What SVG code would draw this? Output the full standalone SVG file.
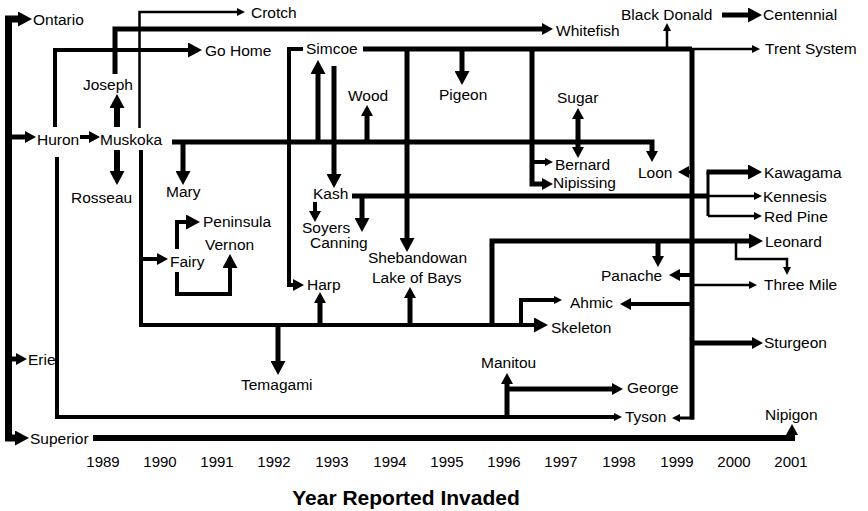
<svg xmlns="http://www.w3.org/2000/svg" width="868" height="511" viewBox="0 0 868 511">
<style>
text{font-family:"Liberation Sans",Arial,sans-serif;font-size:15.5px;fill:#000}
.yr{font-size:15px;text-anchor:middle}
.title{font-size:21px;font-weight:bold;text-anchor:middle}
path{fill:none;stroke:#000;stroke-linejoin:miter}
.t2{stroke-width:2.5}.t3{stroke-width:3}.t4{stroke-width:4}.t5{stroke-width:5}.t6{stroke-width:6}.t7{stroke-width:7}
.big{marker-end:url(#big)}.med{marker-end:url(#med)}.sm{marker-end:url(#sm)}
</style>
<defs>
<marker id="big" markerUnits="userSpaceOnUse" markerWidth="14" markerHeight="15" refX="1" refY="7.5" orient="auto"><path d="M0,0 L14,7.5 L0,15 z" style="fill:#000;stroke:none"/></marker>
<marker id="med" markerUnits="userSpaceOnUse" markerWidth="11" markerHeight="12" refX="1" refY="6" orient="auto"><path d="M0,0 L11,6 L0,12 z" style="fill:#000;stroke:none"/></marker>
<marker id="sm" markerUnits="userSpaceOnUse" markerWidth="8" markerHeight="8" refX="1" refY="4" orient="auto"><path d="M0,0 L8,4 L0,8 z" style="fill:#000;stroke:none"/></marker>
</defs>
<rect width="868" height="511" fill="#fff"/>
<g id="connectors">
<path class="t7 big" d="M8.5,438 V19 H19"/>
<path class="t7 big" d="M8.5,430 V438 H16"/>
<path class="t5 med" d="M8.5,137 H26"/>
<path class="t5 med" d="M8.5,359 H17"/>
<path class="t4 med" d="M80,137 H90"/>
<path class="t6 big" d="M117,127 V107"/>
<path class="t6 big" d="M117,150 V172"/>
<path class="t5 med" d="M115,74 V29 H543"/>
<path class="t2 sm" d="M139.5,128 V12 H238"/>
<path class="t4 big" d="M141,150 V325 H535"/>
<path class="t4 med" d="M141,259 H158"/>
<path class="t4 big" d="M177,249 V222 H187"/>
<path class="t4 big" d="M177,272 V294 H230 V267"/>
<path class="t4 big" d="M55,127 V50 H189"/>
<path class="t4 sm" d="M57,157 V417 H615"/>
<path class="t5 med" d="M172,142 H652 V152"/>
<path class="t5 big" d="M183,142 V172"/>
<path class="t5 big" d="M318,142 V73"/>
<path class="t5 med" d="M367,142 V115"/>
<path class="t5 med" d="M578,142 V118"/>
<path class="t5 med" d="M578,142 V148"/>
<path class="t4 med" d="M303,49 H289 V285 H294"/>
<path class="t5" d="M363,49 H692"/>
<path class="t2 sm" d="M692,49 H753"/>
<path class="t2 sm" d="M667,49 V30"/>
<path class="t5 big" d="M722,15 H749"/>
<path class="t5 big" d="M334,66 V175"/>
<path class="t5 big" d="M407,49 V239"/>
<path class="t5 big" d="M462,49 V72"/>
<path class="t5 med" d="M532,49 V184 H543"/>
<path class="t4 sm" d="M532,162 H546"/>
<path class="t5" d="M692,49 V419.5"/>
<path class="t3 sm" d="M694,418 H679"/>
<path class="t4 med" d="M692,172 H688"/>
<path class="t4 med" d="M692,275 H679"/>
<path class="t2 sm" d="M692,285 H750"/>
<path class="t4 med" d="M692,304 H630"/>
<path class="t5 med" d="M692,343 H753"/>
<path class="t5" d="M352,196 H708"/>
<path class="t2 sm" d="M708,196 H755"/>
<path class="t3" d="M708,216 V172"/>
<path class="t5 big" d="M706.5,172 H749"/>
<path class="t2 sm" d="M708,216 H755"/>
<path class="t5 big" d="M362,196 V219"/>
<path class="t4 med" d="M315,202 V212"/>
<path class="t5 big" d="M492,325 V241 H750"/>
<path class="t5 med" d="M658,241 V257"/>
<path class="t2 sm" d="M736,241 V259 H787 V268"/>
<path class="t4 sm" d="M521,325 V300 H555"/>
<path class="t5 med" d="M320,325 V302"/>
<path class="t5 med" d="M410,325 V297"/>
<path class="t5 big" d="M278,325 V362"/>
<path class="t5 med" d="M507,417 V383"/>
<path class="t5 med" d="M507,389 H613"/>
<path class="t6 med" d="M93,438 H792 V434"/>
</g>
<g id="Ontario"><text x="33" y="25">Ontario</text></g>
<g id="Huron"><text x="37" y="145">Huron</text></g>
<g id="Muskoka"><text x="100" y="145">Muskoka</text></g>
<g id="Joseph"><text x="83" y="90">Joseph</text></g>
<g id="Rosseau"><text x="71" y="203">Rosseau</text></g>
<g id="Erie"><text x="28" y="365">Erie</text></g>
<g id="Superior"><text x="30" y="444">Superior</text></g>
<g id="Crotch"><text x="251" y="18">Crotch</text></g>
<g id="GoHome"><text x="205" y="56">Go Home</text></g>
<g id="Whitefish"><text x="556" y="36">Whitefish</text></g>
<g id="Simcoe"><text x="306" y="54">Simcoe</text></g>
<g id="Wood"><text x="348" y="101">Wood</text></g>
<g id="Pigeon"><text x="439" y="100">Pigeon</text></g>
<g id="Sugar"><text x="557" y="103">Sugar</text></g>
<g id="BlackDonald"><text x="621" y="20">Black Donald</text></g>
<g id="Centennial"><text x="763" y="20">Centennial</text></g>
<g id="TrentSystem"><text x="765" y="54">Trent System</text></g>
<g id="Mary"><text x="166" y="197">Mary</text></g>
<g id="Kash"><text x="313" y="199">Kash</text></g>
<g id="Bernard"><text x="555" y="170">Bernard</text></g>
<g id="Nipissing"><text x="553" y="188">Nipissing</text></g>
<g id="Loon"><text x="638" y="178">Loon</text></g>
<g id="Kawagama"><text x="764" y="178">Kawagama</text></g>
<g id="Kennesis"><text x="763" y="202">Kennesis</text></g>
<g id="RedPine"><text x="764" y="222">Red Pine</text></g>
<g id="Leonard"><text x="765" y="247">Leonard</text></g>
<g id="Panache"><text x="601" y="281">Panache</text></g>
<g id="ThreeMile"><text x="764" y="290">Three Mile</text></g>
<g id="Ahmic"><text x="570" y="308">Ahmic</text></g>
<g id="Skeleton"><text x="551" y="333">Skeleton</text></g>
<g id="Sturgeon"><text x="764" y="348">Sturgeon</text></g>
<g id="Peninsula"><text x="203" y="227">Peninsula</text></g>
<g id="Vernon"><text x="205" y="250">Vernon</text></g>
<g id="Fairy"><text x="170" y="267">Fairy</text></g>
<g id="Soyers"><text x="302" y="233">Soyers</text></g>
<g id="Canning"><text x="310" y="248">Canning</text></g>
<g id="Shebandowan"><text x="368" y="263">Shebandowan</text></g>
<g id="LakeOfBays"><text x="372" y="283">Lake of Bays</text></g>
<g id="Harp"><text x="307" y="290">Harp</text></g>
<g id="Temagami"><text x="241" y="390">Temagami</text></g>
<g id="Manitou"><text x="481" y="368">Manitou</text></g>
<g id="George"><text x="627" y="393">George</text></g>
<g id="Tyson"><text x="625" y="422">Tyson</text></g>
<g id="Nipigon"><text x="765" y="420">Nipigon</text></g>
<g id="axis">
<text class="yr" x="103" y="467">1989</text>
<text class="yr" x="160" y="467">1990</text>
<text class="yr" x="217" y="467">1991</text>
<text class="yr" x="274" y="467">1992</text>
<text class="yr" x="332" y="467">1993</text>
<text class="yr" x="390" y="467">1994</text>
<text class="yr" x="447" y="467">1995</text>
<text class="yr" x="504" y="467">1996</text>
<text class="yr" x="561" y="467">1997</text>
<text class="yr" x="619" y="467">1998</text>
<text class="yr" x="677" y="467">1999</text>
<text class="yr" x="734" y="467">2000</text>
<text class="yr" x="791" y="467">2001</text>
<text class="title" x="406" y="505">Year Reported Invaded</text>
</g>
</svg>
